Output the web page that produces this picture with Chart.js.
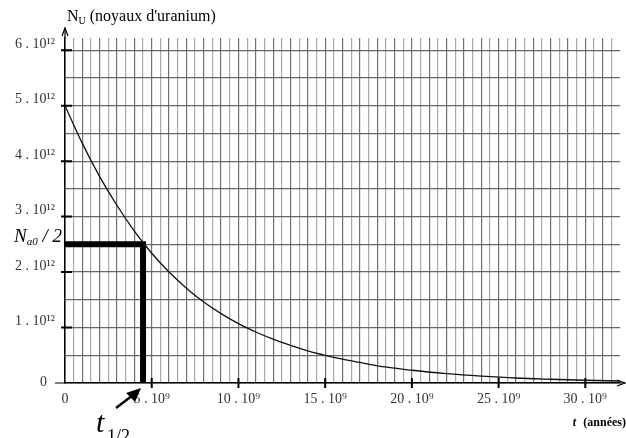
<!DOCTYPE html>
<html>
<head>
<meta charset="utf-8">
<script src="https://cdn.jsdelivr.net/npm/chart.js@4.4.1/dist/chart.umd.min.js"></script>
<style>
  html, body { margin: 0; padding: 0; background: #fff; }
  #wrap { width: 626px; height: 438px; }
</style>
</head>
<body>
<div id="wrap"><canvas id="decay"></canvas></div>
<script>
// time in 10^9 years, nuclei in 10^12
const tYears = [0, 1, 2, 3, 4, 5, 6, 7, 8, 9, 10, 11, 12, 13, 14, 15, 16, 17, 18, 19, 20,
                22, 24, 26, 28, 30, 32];
const nUranium = [5.0, 4.32, 3.72, 3.2, 2.74, 2.34, 2.0, 1.71, 1.46, 1.25, 1.07, 0.92, 0.79,
                  0.68, 0.58, 0.50, 0.43, 0.37, 0.31, 0.27, 0.23, 0.17, 0.125, 0.09, 0.068, 0.05, 0.036];

const halfLife = 4.5;
const halfN = 2.5;
const guideX = [0, halfLife, halfLife];
const guideY = [halfN, halfN, 0];

const xLabelEvery = 5;
const yLabelEvery = 1;

const serif = "'Liberation Serif', 'DejaVu Serif', serif";

function stepTicks(max, step) {
    const out = [];
    for (let v = 0; v <= max + 1e-9; v += step) out.push({ value: Math.round(v * 10) / 10 });
    return out;
}

/* ─── Annotations ────────────────────────────── */
const annotations = {
    id: 'annotations',
    afterDraw(chart) {
        const ctx = chart.ctx;
        const xs = chart.scales.x;
        const ys = chart.scales.y;
        const x0 = xs.getPixelForValue(0);
        const y0 = ys.getPixelForValue(0);
        ctx.save();
        ctx.strokeStyle = '#000';
        ctx.fillStyle = '#000';

        // axis extensions + arrows
        ctx.lineWidth = 1.2;
        ctx.beginPath();
        ctx.moveTo(x0, chart.chartArea.top);
        ctx.lineTo(x0, 28);
        ctx.moveTo(x0 - 10, y0);
        ctx.lineTo(x0, y0);
        ctx.moveTo(chart.chartArea.right, y0);
        ctx.lineTo(625, y0);
        ctx.stroke();
        ctx.beginPath();
        ctx.moveTo(x0 - 3, 36); ctx.lineTo(x0, 28); ctx.lineTo(x0 + 3, 36);
        ctx.moveTo(617, y0 - 3); ctx.lineTo(625, y0); ctx.lineTo(617, y0 + 3);
        ctx.stroke();

        // tick marks
        ctx.lineWidth = 2;
        ctx.beginPath();
        for (let v = 1; v <= 6; v++) {
            const py = ys.getPixelForValue(v);
            ctx.moveTo(x0 - 4, py); ctx.lineTo(x0 + 7, py);
        }
        for (let v = 5; v <= 30; v += 5) {
            const px = xs.getPixelForValue(v);
            ctx.moveTo(px, y0 - 5); ctx.lineTo(px, y0 + 5);
        }
        ctx.stroke();

        // y origin label
        ctx.fillStyle = '#333';
        ctx.font = '14px ' + serif;
        ctx.textAlign = 'right';
        ctx.textBaseline = 'middle';
        ctx.fillText('0', 47, y0 - 1);
        ctx.fillStyle = '#000';

        // N_U title
        ctx.textBaseline = 'alphabetic';
        ctx.textAlign = 'left';
        ctx.font = '16px ' + serif;
        ctx.fillText('N', 67, 21);
        let w = ctx.measureText('N').width;
        ctx.font = '10px ' + serif;
        ctx.fillText('U', 67 + w, 24);
        const wu = ctx.measureText('U').width;
        ctx.font = '16px ' + serif;
        ctx.fillText(' (noyaux d\'uranium)', 67 + w + wu, 21);

        // N_a0 / 2
        const py = ys.getPixelForValue(halfN);
        ctx.font = 'italic 19px ' + serif;
        ctx.fillText('N', 14, py - 2);
        w = ctx.measureText('N').width;
        ctx.font = 'italic 11px ' + serif;
        ctx.fillText('a0', 14 + w, py + 1);
        const wa = ctx.measureText('a0').width;
        ctx.font = 'italic 19px ' + serif;
        ctx.fillText(' / 2', 14 + w + wa, py - 2);

        // t (années)
        ctx.textAlign = 'right';
        ctx.font = 'italic bold 12px ' + serif;
        ctx.fillText('t', 576, 426);
        ctx.font = 'bold 12px ' + serif;
        ctx.fillText(' (années)', 626, 426);

        // t_1/2 with arrow
        ctx.textAlign = 'left';
        ctx.font = 'italic 30px ' + serif;
        ctx.fillText('t', 96, 432);
        ctx.font = '18px ' + serif;
        ctx.fillText('1/2', 107, 442);
        const hx = xs.getPixelForValue(halfLife) - 2;
        const hy = y0 + 5;
        ctx.lineWidth = 2.5;
        ctx.beginPath();
        ctx.moveTo(116, 408);
        ctx.lineTo(hx - 8, hy + 7);
        ctx.stroke();
        ctx.beginPath();
        ctx.moveTo(hx, hy);
        ctx.lineTo(hx - 15, hy + 5);
        ctx.lineTo(hx - 6, hy + 14);
        ctx.closePath();
        ctx.fill();
        ctx.restore();
    }
};

new Chart(document.getElementById('decay').getContext('2d'), {
    type: 'line',
    data: {
        datasets: [{
            label: 'N(t)',
            data: tYears.map((t, i) => ({ x: t, y: nUranium[i] })),
            borderColor: '#111',
            borderWidth: 1.3,
            pointRadius: 0,
            cubicInterpolationMode: 'monotone',
            fill: false
        }, {
            label: 'demi-vie',
            data: guideX.map((t, i) => ({ x: t, y: guideY[i] })),
            borderColor: '#000',
            borderWidth: 6,
            pointRadius: 0,
            tension: 0,
            borderJoinStyle: 'miter',
            fill: false
        }]
    },
    options: {
        responsive: true,
        maintainAspectRatio: false,
        animation: false,
        layout: { padding: { top: 38, right: 6, left: 0, bottom: 0 } },
        plugins: {
            legend: { display: false },
            tooltip: { enabled: false }
        },
        scales: {
            x: {
                type: 'linear',
                min: 0,
                max: 32,
                afterBuildTicks(scale) { scale.ticks = stepTicks(31.5, 0.5); },
                afterFit(scale) { scale.height = 55; },
                grid: {
                    color: c => (c.tick && c.tick.value % 1 === 0) ? '#707070' : '#a8a8a8',
                    lineWidth: 1.2,
                    drawTicks: false
                },
                border: { color: '#000', width: 1.5 },
                ticks: {
                    autoSkip: false,
                    maxRotation: 0,
                    padding: 8,
                    color: '#333',
                    font: { family: serif, size: 14 },
                    callback: v => (v % xLabelEvery === 0) ? (v === 0 ? '0' : v + ' . 10⁹') : ''
                }
            },
            y: {
                type: 'linear',
                min: 0,
                max: 6.22,
                afterBuildTicks(scale) { scale.ticks = stepTicks(6, 0.5); },
                afterFit(scale) { scale.width = 65; },
                grid: { color: '#666', lineWidth: 1.2, drawTicks: false },
                border: { color: '#000', width: 1.5 },
                ticks: {
                    autoSkip: false,
                    padding: 10,
                    labelOffset: -6,
                    color: '#333',
                    font: { family: serif, size: 14 },
                    callback: v => (v % yLabelEvery === 0 && v > 0) ? v + ' . 10¹²' : ''
                }
            }
        }
    },
    plugins: [annotations]
});
</script>
</body>
</html>
